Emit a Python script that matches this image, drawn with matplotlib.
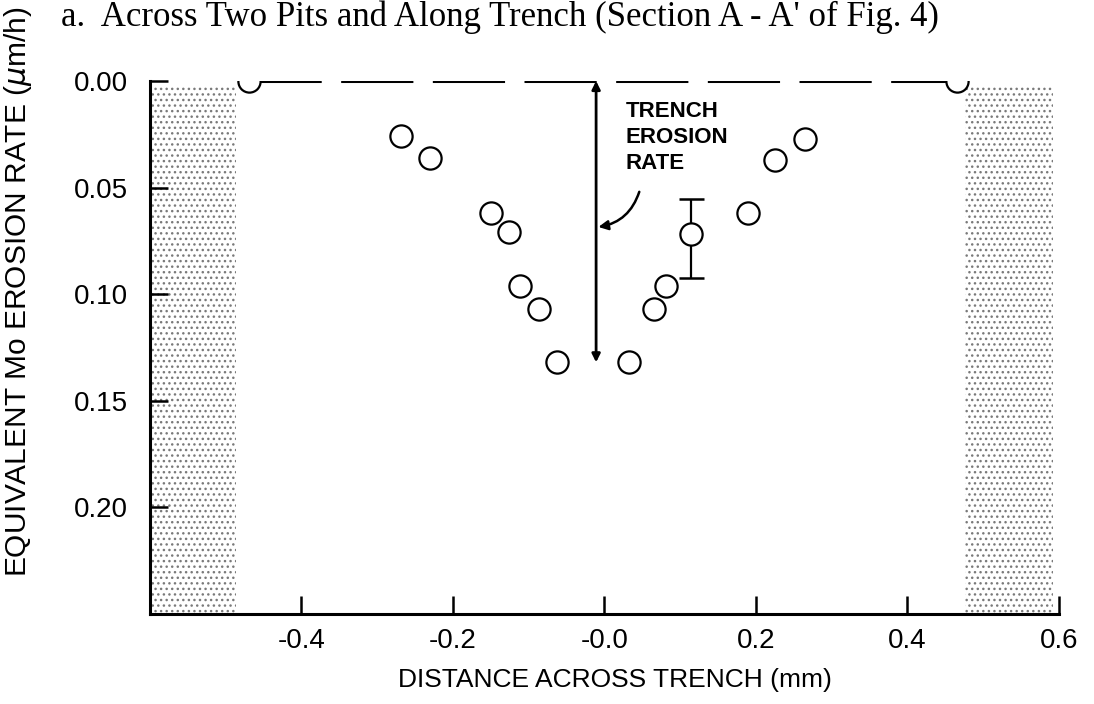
import numpy as np
import matplotlib
matplotlib.use('Agg')
import matplotlib.pyplot as plt

plt.rcParams['font.family'] = ['Liberation Sans', 'DejaVu Sans']
plt.rcParams['lines.scale_dashes'] = False
plt.rcParams['hatch.linewidth'] = 1.0

# data
dist = [-0.469, -0.269, -0.23, -0.15, -0.126, -0.111, -0.087, -0.062,
        0.033, 0.065, 0.081, 0.114, 0.189, 0.225, 0.265, 0.466]
rate = [0.0, 0.026, 0.036, 0.062, 0.071, 0.096, 0.107, 0.132,
        0.132, 0.107, 0.096, 0.072, 0.062, 0.037, 0.027, 0.0]
err_x = 0.114
err_y = 0.0738
err_half = 0.0185
trench_x = -0.011
trench_depth = 0.132
pit_left = (-0.6, -0.486)
pit_right = (0.476, 0.592)
xticks = [-0.4, -0.2, 0.0, 0.2, 0.4, 0.6]
xticklabels = ['-0.4', '-0.2', '-0.0', '0.2', '0.4', '0.6']
yticks = [0.0, 0.05, 0.10, 0.15, 0.20]
yticklabels = ['0.00', '0.05', '0.10', '0.15', '0.20']

fig = plt.figure(figsize=(10.94, 7.04), dpi=100)
ax = fig.add_axes([0.137, 0.128, 0.831, 0.757])

# stippled pit regions
for a, b in (pit_left, pit_right):
    ax.fill_between([a, b], 0.003, 0.25, facecolor='white', edgecolor='#7a7a7a',
                    hatch='...', linewidth=0, zorder=1)

# dashed original surface line
ax.plot([dist[0], dist[-1]], [0, 0], color='black', lw=2.2,
        dashes=(52, 14), zorder=2)

# trench erosion rate arrow
ax.annotate('', xy=(trench_x, trench_depth), xytext=(trench_x, 0.0),
            arrowprops=dict(arrowstyle='<|-|>', color='black', lw=2,
                            mutation_scale=12, shrinkA=0, shrinkB=0), zorder=3)
ax.text(0.028, 0.0095, 'TRENCH\nEROSION\nRATE', ha='left', va='top',
        fontsize=16, fontweight='bold', linespacing=1.3, zorder=3)
ax.annotate('', xy=(trench_x + 0.003, 0.0685), xytext=(0.046, 0.052),
            arrowprops=dict(arrowstyle='-|>', color='black', lw=1.8,
                            mutation_scale=14, shrinkA=0, shrinkB=0,
                            connectionstyle='arc3,rad=-0.3'),
            zorder=3)

# error bar
ax.errorbar([err_x], [err_y], yerr=[err_half], fmt='none', ecolor='black',
            elinewidth=1.6, capsize=9, capthick=1.8, zorder=3)

ax.plot(dist, rate, linestyle='none', marker='o', markersize=16,
        markerfacecolor='white', markeredgecolor='black', markeredgewidth=1.6,
        zorder=4)

ax.set_xlim(-0.6, 0.6)
ax.set_ylim(0.25, 0.0)
ax.set_xticks(xticks)
ax.set_xticklabels(xticklabels)
ax.set_yticks(yticks)
ax.set_yticklabels(yticklabels)
ax.tick_params(direction='in', length=13, width=1.8, labelsize=20)
ax.tick_params(axis='y', pad=16)
ax.tick_params(axis='x', pad=10)
for s in ('top', 'right'):
    ax.spines[s].set_visible(False)
for s in ('left', 'bottom'):
    ax.spines[s].set_linewidth(2.2)

ax.set_xlabel('DISTANCE ACROSS TRENCH (mm)', fontsize=19)
ax.xaxis.set_label_coords(0.512, -0.101)
fig.text(18 / 1094, 0.585, 'EQUIVALENT Mo EROSION RATE ($\\mu$m/h)', fontsize=21.5,
         rotation=90, ha='center', va='center')

fig.text(0.457, 1 - 1 / 704, "a.  Across Two Pits and Along Trench (Section A - A' of Fig. 4)",
         family='Liberation Serif', fontsize=25, ha='center', va='top')

fig.savefig('out.png', dpi=100)
